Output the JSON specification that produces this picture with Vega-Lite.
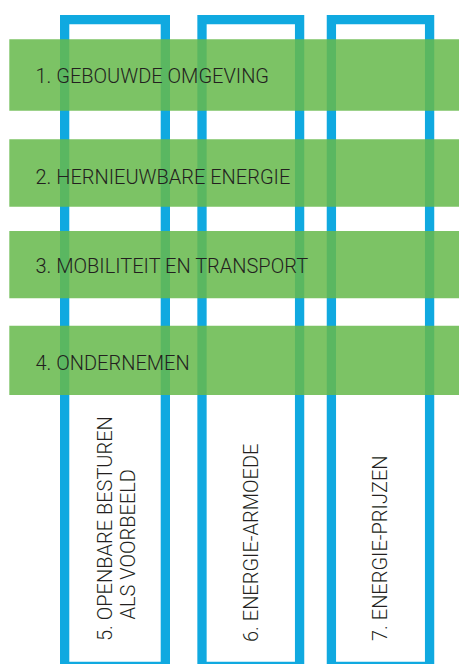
{
  "$schema": "https://vega.github.io/schema/vega-lite/v6.json",
  "width": 459,
  "height": 664,
  "autosize": {"type": "none"},
  "padding": 0,
  "background": "white",
  "config": {"view": {"stroke": null}},
  "datasets": {
    "columns": [
      {"theme": "5", "left": 64.65, "right": 165.35, "top": 19.6, "bottom": 666.5},
      {"theme": "6", "left": 202.0, "right": 299.6, "top": 19.6, "bottom": 666.5},
      {"theme": "7", "left": 331.4, "right": 429.6, "top": 19.6, "bottom": 666.5}
    ],
    "bands": [
      {"label": "1. GEBOUWDE OMGEVING", "left": 9.3, "right": 459, "top": 39.3, "bottom": 110.7, "tx": 35.5, "ty": 83.3},
      {"label": "2. HERNIEUWBARE ENERGIE", "left": 9.3, "right": 459, "top": 139.3, "bottom": 206.7, "tx": 35.5, "ty": 184.3},
      {"label": "3. MOBILITEIT EN TRANSPORT", "left": 9.3, "right": 459, "top": 231.0, "bottom": 298.3, "tx": 35.5, "ty": 273.3},
      {"label": "4. ONDERNEMEN", "left": 9.3, "right": 459, "top": 325.7, "bottom": 395.0, "tx": 35.5, "ty": 370.0}
    ],
    "vlabels": [
      {"label": "5. OPENBARE BESTUREN", "tx": 111.7, "ty": 641},
      {"label": "ALS VOORBEELD", "tx": 135.0, "ty": 619.5},
      {"label": "6. ENERGIE-ARMOEDE", "tx": 258.3, "ty": 642},
      {"label": "7. ENERGIE-PRIJZEN", "tx": 387.0, "ty": 641}
    ]
  },
  "layer": [
    {
      "data": {"name": "columns"},
      "mark": {"type": "rect", "filled": false, "stroke": "#10a9e0", "strokeWidth": 9.3},
      "encoding": {
        "x": {"field": "left", "type": "quantitative", "scale": {"domain": [0, 459], "nice": false, "zero": false}, "axis": null},
        "x2": {"field": "right"},
        "y": {"field": "top", "type": "quantitative", "scale": {"domain": [0, 664], "nice": false, "zero": false, "reverse": true}, "axis": null},
        "y2": {"field": "bottom"}
      }
    },
    {
      "data": {"name": "bands"},
      "mark": {"type": "rect", "fill": "#67b94c", "fillOpacity": 0.86, "strokeWidth": 0},
      "encoding": {
        "x": {"field": "left", "type": "quantitative"},
        "x2": {"field": "right"},
        "y": {"field": "top", "type": "quantitative"},
        "y2": {"field": "bottom"}
      }
    },
    {
      "data": {"name": "bands"},
      "mark": {"type": "text", "font": "Roboto", "fontSize": 20, "fontWeight": 300, "color": "#231f20", "align": "left", "baseline": "alphabetic"},
      "encoding": {
        "x": {"field": "tx", "type": "quantitative"},
        "y": {"field": "ty", "type": "quantitative"},
        "text": {"field": "label"}
      }
    },
    {
      "data": {"name": "vlabels"},
      "mark": {"type": "text", "font": "Roboto", "fontSize": 20, "fontWeight": 300, "color": "#231f20", "align": "left", "baseline": "alphabetic", "angle": 270},
      "encoding": {
        "x": {"field": "tx", "type": "quantitative"},
        "y": {"field": "ty", "type": "quantitative"},
        "text": {"field": "label"}
      }
    }
  ]
}
